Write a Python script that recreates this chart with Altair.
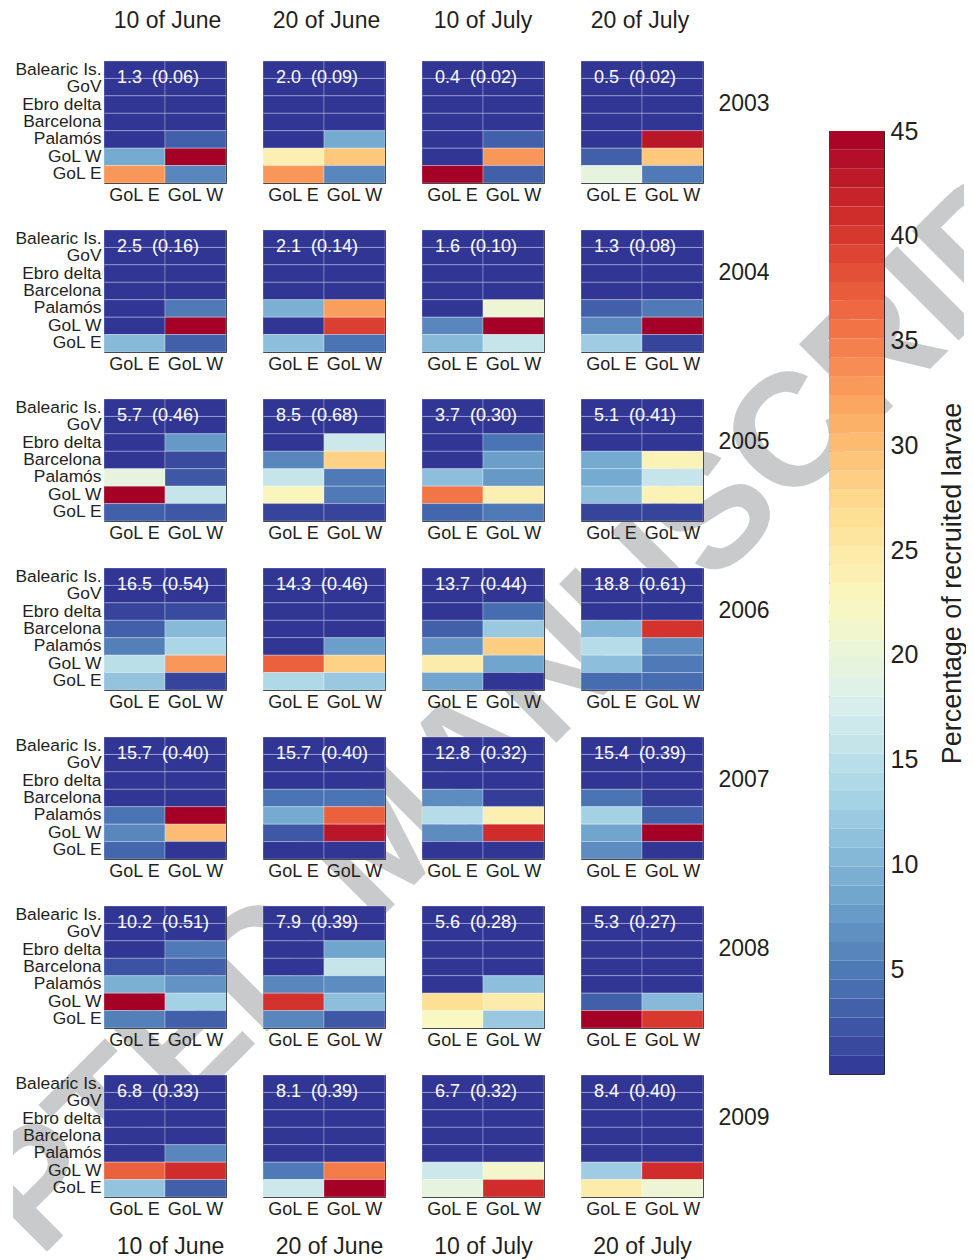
import altair as alt
import pandas as pd

years = ["2003", "2004", "2005", "2006", "2007", "2008", "2009"]
dates = ["10 of June", "20 of June", "10 of July", "20 of July"]
destinations = ["Balearic Is.", "GoV", "Ebro delta", "Barcelona", "Palamós", "GoL W", "GoL E"]
sources = ["GoL E", "GoL W"]

# one matrix per panel: rows follow `destinations`, each row is [from GoL E, from GoL W]
p2003 = [
    [[0, 0], [0, 0], [0, 0], [0, 0], [0, 3], [9, 45], [33, 6]],
    [[0, 0], [0, 0], [0, 0], [0, 0], [0, 9], [24, 29], [33, 6]],
    [[0, 0], [0, 0], [0, 0], [0, 0], [0, 3], [0, 33], [45, 3]],
    [[0, 0], [0, 0], [0, 0], [0, 0], [0, 43], [3, 29], [19.5, 5]],
]
p2004 = [
    [[0, 0], [0, 0], [0, 0], [0, 0], [0, 5], [0, 45], [10.5, 3]],
    [[0, 0], [0, 0], [0, 0], [0, 0], [9.5, 32.5], [0, 39.5], [11, 4.5]],
    [[0, 0], [0, 0], [0, 0], [0, 0], [0, 20.5], [6, 45], [10.5, 16]],
    [[0, 0], [0, 0], [0, 0], [0, 0], [3, 5], [6, 45], [12.5, 1]],
]
p2005 = [
    [[0, 0], [0, 0], [0, 7.5], [0, 1.5], [19.5, 2.5], [45, 16], [3, 2.5]],
    [[0, 0], [0, 0], [0, 16.5], [6, 28], [16, 5], [23, 5], [1, 1]],
    [[0, 0], [0, 0], [0, 4.5], [0, 8], [11, 7.5], [35.5, 24], [3.5, 5]],
    [[0, 0], [0, 0], [0, 0], [9, 23.5], [9, 16], [11, 23.5], [1, 1]],
]
p2006 = [
    [[0, 0], [0, 0], [1, 1.5], [3, 10.5], [5.5, 13.5], [15, 33], [11.5, 1]],
    [[0, 0], [0, 0], [0, 0], [0, 0], [0, 8], [37, 28], [14, 12]],
    [[0, 0], [0, 0], [0, 4], [3, 12], [7, 28.5], [24.5, 8.5], [8.5, 0]],
    [[0, 0], [0, 0], [0, 0], [10, 40.5], [14.5, 6.5], [11, 5], [4, 4]],
]
p2007 = [
    [[0, 0], [0, 0], [0, 0], [0, 0], [4.5, 45], [6, 30], [3.5, 0]],
    [[0, 0], [0, 0], [0, 0], [4.5, 4.5], [9, 37], [2.5, 43], [0, 0]],
    [[0, 0], [0, 0], [0, 0], [6.5, 0.5], [14.5, 24], [6.5, 41], [0, 0]],
    [[0, 0], [0, 0], [0, 0], [4.5, 0.5], [13, 3], [8.5, 45], [6.5, 0]],
]
p2008 = [
    [[0, 0], [0, 0], [0, 5], [2, 3], [9.5, 7], [45, 13], [5.5, 3]],
    [[0, 0], [0, 0], [0, 8.5], [0, 16], [6, 6.5], [40.5, 11], [6, 2.5]],
    [[0, 0], [0, 0], [0, 0], [0, 0], [0, 11], [26.5, 24.5], [22.5, 12]],
    [[0, 0], [0, 0], [0, 0], [0, 0], [0, 0], [3, 10.5], [45, 40]],
]
p2009 = [
    [[0, 0], [0, 0], [0, 0], [0, 0], [0, 6], [37, 41], [11.5, 3]],
    [[0, 0], [0, 0], [0, 0], [0, 0], [0, 0], [5, 35], [16.5, 45]],
    [[0, 0], [0, 0], [0, 0], [0, 0], [0, 0], [16.5, 21.5], [19.5, 41]],
    [[0, 0], [0, 0], [0, 0], [0, 0], [0, 0], [12.5, 41], [24.5, 20.5]],
]

# panel annotations: total and (fraction)
tot2003 = [1.3, 2.0, 0.4, 0.5];     frac2003 = [0.06, 0.09, 0.02, 0.02]
tot2004 = [2.5, 2.1, 1.6, 1.3];     frac2004 = [0.16, 0.14, 0.10, 0.08]
tot2005 = [5.7, 8.5, 3.7, 5.1];     frac2005 = [0.46, 0.68, 0.30, 0.41]
tot2006 = [16.5, 14.3, 13.7, 18.8]; frac2006 = [0.54, 0.46, 0.44, 0.61]
tot2007 = [15.7, 15.7, 12.8, 15.4]; frac2007 = [0.40, 0.40, 0.32, 0.39]
tot2008 = [10.2, 7.9, 5.6, 5.3];    frac2008 = [0.51, 0.39, 0.28, 0.27]
tot2009 = [6.8, 8.1, 6.7, 8.4];     frac2009 = [0.33, 0.39, 0.32, 0.40]

cbar_ticks = [5, 10, 15, 20, 25, 30, 35, 40, 45]
cbar_max = 45
cbar_levels = 50
cbar_title = "Percentage of recruited larvae"
watermark = "ACCEPTED MANUSCRIPT"

panels = {"2003": p2003, "2004": p2004, "2005": p2005, "2006": p2006,
          "2007": p2007, "2008": p2008, "2009": p2009}
totals = {"2003": tot2003, "2004": tot2004, "2005": tot2005, "2006": tot2006,
          "2007": tot2007, "2008": tot2008, "2009": tot2009}
fracs = {"2003": frac2003, "2004": frac2004, "2005": frac2005, "2006": frac2006,
         "2007": frac2007, "2008": frac2008, "2009": frac2009}

records = []
for y in years:
    for di, d in enumerate(dates):
        ann = f"{totals[y][di]:.1f}\u00a0 ({fracs[y][di]:.2f})"
        for ri, dest in enumerate(destinations):
            for si, src in enumerate(sources):
                records.append({"year": y, "date": d, "dest": dest, "src": src,
                                "value": panels[y][di][ri][si], "ann": ann})
df = pd.DataFrame(records)

step = cbar_max / cbar_levels
cb_df = pd.DataFrame({
    "lo": [i * step for i in range(cbar_levels)],
    "hi": [(i + 1) * step for i in range(cbar_levels)],
    "mid": [(i + 0.5) * step for i in range(cbar_levels)],
    "bar": ["bar"] * cbar_levels,
})

INK = "#231f20"
FONT = "Liberation Sans"
PW, PH = 122, 122
cscale = alt.Scale(scheme="redyellowblue", reverse=True, domain=[0, cbar_max])
xscale = alt.Scale(domain=sources, paddingInner=0, paddingOuter=0)
yscale = alt.Scale(domain=destinations, paddingInner=0, paddingOuter=0)
panel_view = alt.ViewBackground(stroke="#2b2b2b", strokeWidth=1, strokeOpacity=1)
blank_view = alt.ViewBackground(strokeOpacity=0)

top_title_x = [63, 63, 60.5, 58.5]
bottom_title_x = [66, 66, 61, 61]


def x_bottom_axis(title=None, tx=61):
    kw = dict(labelFontSize=18, labelPadding=3, ticks=False, tickSize=0, domain=False,
              grid=False, labelColor=INK, labelAngle=0)
    if title is None:
        return alt.Axis(title=None, **kw)
    return alt.Axis(title=title, titleFontSize=23, titleFontWeight="normal", titleColor=INK,
                    titleAlign="center", titleBaseline="top", titleX=tx, titleY=38, **kw)


def panel(yi, di):
    y, d = years[yi], dates[di]
    if di == 0:
        yaxis = alt.Axis(title=None, labelFontSize=17.4, labelPadding=3, ticks=False, tickSize=0,
                         domain=False, grid=False, labelColor=INK)
    elif di == 3:
        yaxis = alt.Axis(orient="right", title=y, labels=False, ticks=False, tickSize=0,
                         domain=False, grid=False, titleAngle=0, titleAlign="left",
                         titleBaseline="middle", titleX=15, titleY=42, titleFontSize=23,
                         titleFontWeight="normal", titleColor=INK)
    else:
        yaxis = None
    last_row = yi == len(years) - 1
    xaxis = x_bottom_axis(d, bottom_title_x[di]) if last_row else x_bottom_axis()
    if yi == 0:
        label_xaxis = alt.Axis(orient="top", labels=False, ticks=False, tickSize=0, domain=False,
                               grid=False, title=d, titleFontSize=23, titleFontWeight="normal",
                               titleColor=INK, titleAlign="center", titleBaseline="bottom",
                               titleX=top_title_x[di], titleY=-29)
    else:
        label_xaxis = xaxis
    base = alt.Chart(df).transform_filter((alt.datum.year == y) & (alt.datum.date == d))
    cells = base.mark_rect(stroke="white", strokeOpacity=0.28, strokeWidth=1).encode(
        x=alt.X("src:N", scale=xscale, axis=xaxis),
        y=alt.Y("dest:N", scale=yscale, axis=yaxis),
        color=alt.Color("value:Q", scale=cscale, legend=None),
    )
    label = base.transform_filter(
        (alt.datum.dest == destinations[1]) & (alt.datum.src == sources[0])
    ).mark_text(color="white", fontSize=18, align="left", baseline="middle", dx=13).encode(
        x=alt.X("src:N", scale=xscale, axis=label_xaxis, bandPosition=0),
        y=alt.Y("dest:N", scale=yscale, axis=yaxis, bandPosition=0),
        text="ann:N",
    )
    ch = alt.layer(cells, label)
    if yi == 0:
        ch = ch.resolve_axis(x="independent")
    return ch.properties(width=PW, height=PH, view=panel_view)


def spacer(w, h):
    return alt.Chart(pd.DataFrame({"s": [0]})).mark_point(opacity=0, size=0).encode(
        x=alt.value(0), y=alt.value(0)
    ).properties(width=w, height=h, view=blank_view)


# 7 x 4 grid of panels (flat concat, positions from width/height + spacing only)
grid = alt.concat(*[panel(yi, di) for yi in range(len(years)) for di in range(4)],
                  columns=4, spacing={"row": 47, "column": 37}, bounds="flush")

cb_y = alt.Scale(domain=[0, cbar_max], nice=False, zero=True)
cb_x = alt.X("bar:N", axis=None, scale=alt.Scale(paddingInner=0, paddingOuter=0))
cb_fill = alt.Chart(cb_df).mark_rect().encode(
    x=cb_x,
    y=alt.Y("lo:Q", scale=cb_y,
            axis=alt.Axis(orient="left", offset=-7, tickSize=7, labels=False, domain=False,
                          grid=False, title=None, values=cbar_ticks[:-1], tickColor="#333333")),
    y2="hi:Q",
    color=alt.Color("mid:Q", scale=cscale, legend=None),
)
cb_axis = alt.Chart(cb_df).mark_rect(opacity=0).encode(
    x=cb_x,
    y=alt.Y("lo:Q", scale=cb_y,
            axis=alt.Axis(orient="right", offset=-7, tickSize=7, values=cbar_ticks, domain=False,
                          grid=False, labelFontSize=25, labelPadding=6, labelColor=INK,
                          tickColor="#333333", title=cbar_title, titleFontSize=27,
                          titleFontWeight="normal", titleColor=INK, titleAngle=270,
                          titleAlign="center", titleBaseline="top", titleX=62, titleY=452)),
    y2="hi:Q",
)
colorbar = alt.layer(cb_fill, cb_axis).resolve_axis(y="independent").properties(
    width=55, height=943, view=panel_view)
cbcol = alt.vconcat(spacer(55, 70), colorbar, spacing=0, bounds="flush")

main = alt.hconcat(spacer(91, 1), grid, spacer(725, 1), cbcol, spacing=0, bounds="flush")

# watermark, drawn first (behind everything) and clipped to its own view
wm = alt.Chart(pd.DataFrame({"t": [watermark]})).mark_text(
    angle=315, fontSize=160, fontWeight="bold", color="#c9cacc", align="center",
    baseline="middle", clip=True
).encode(text="t:N", x=alt.value(376), y=alt.value(781)).properties(
    width=951, height=1190, view=blank_view)
wm_holder = alt.vconcat(wm)

chart = alt.vconcat(wm_holder, main, spacing=0, bounds="flush").properties(
    padding={"left": 5, "top": 0, "right": 0, "bottom": 0}
).configure(font=FONT).configure_view(stroke="transparent")

chart.save("out.html", embed_options={"renderer": "svg", "actions": False})
